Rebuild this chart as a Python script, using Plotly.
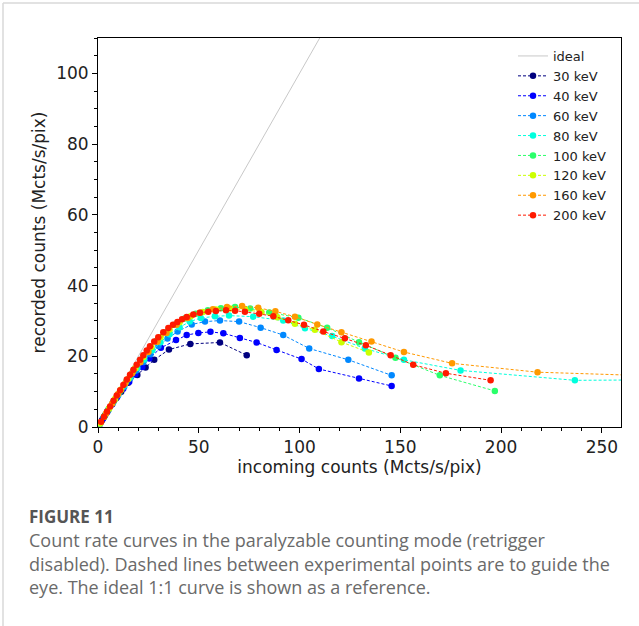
import plotly.graph_objects as go

# ---------------- data ----------------
ideal_x = [0, 120]
ideal_y = [0, 120]

s30_x = [1.0, 2.0, 3.5, 5.0, 7.0, 9.0, 11.5, 15.0, 19.5, 23.6, 27.9, 35.2, 45.8, 60.5, 73.8]
s30_y = [0.9, 1.9, 3.3, 4.7, 6.4, 8.1, 10.0, 12.5, 14.7, 16.8, 19.0, 21.9, 23.5, 23.9, 20.3]

s40_x = [1.0, 2.5, 4.5, 7.0, 9.5, 12.5, 15.5, 18.5, 22.0, 25.5, 31.2, 38.7, 44.0, 49.8, 55.8,
         62.2, 70.4, 78.7, 88.6, 101.0, 109.6, 129.5, 145.7]
s40_y = [0.95, 2.4, 4.2, 6.4, 8.5, 10.8, 12.8, 14.9, 17.0, 19.4, 22.4, 24.6, 26.0, 26.6, 26.9,
         26.5, 25.2, 23.9, 21.8, 19.2, 16.4, 13.7, 11.6]

s60_x = [1.0, 3.0, 5.0, 7.5, 10.0, 13.0, 16.0, 19.0, 22.5, 26.0, 30.0, 34.5, 39.5, 46.5, 53.1,
         60.5, 70.0, 80.7, 91.9, 104.8, 124.2, 145.7]
s60_y = [1.0, 2.9, 4.7, 6.9, 9.0, 11.4, 13.8, 16.0, 18.4, 20.6, 22.9, 25.0, 27.0, 29.0, 29.8,
         30.1, 29.8, 28.1, 26.0, 22.2, 19.0, 14.6]

s80_x = [1.0, 3.0, 5.0, 7.5, 10.0, 13.0, 16.0, 19.5, 23.0, 27.0, 31.0, 35.5, 40.5, 45.5, 51.0,
         58.0, 65.0, 77.0, 91.9, 102.7, 116.2, 132.4, 151.8, 179.9, 236.6, 300.0]
s80_y = [1.0, 2.9, 4.8, 7.0, 9.2, 11.7, 14.1, 16.7, 19.1, 21.7, 24.0, 26.2, 28.2, 29.8, 30.8,
         31.3, 31.5, 31.2, 30.1, 27.9, 25.7, 22.2, 19.0, 16.0, 13.2, 13.4]

s100_x = [1.0, 3.0, 5.5, 8.0, 11.0, 14.0, 17.5, 21.0, 25.0, 29.0, 33.5, 38.0, 43.0, 48.5, 54.5,
          61.0, 68.0, 75.5, 85.0, 99.4, 113.7, 129.5, 147.6, 169.6, 196.9]
s100_y = [1.0, 2.9, 5.2, 7.5, 10.2, 12.8, 15.8, 18.6, 21.6, 24.3, 26.8, 28.9, 30.7, 32.0, 33.0,
          33.6, 33.9, 33.5, 32.4, 30.9, 28.1, 24.0, 19.6, 14.6, 10.2]

s120_x = [1.0, 3.0, 5.5, 8.5, 11.5, 15.0, 18.5, 22.5, 26.5, 31.0, 35.5, 40.5, 46.0, 52.0, 58.5,
          65.5, 73.0, 81.0, 89.0, 97.7, 107.6, 120.8, 134.4]
s120_y = [1.0, 2.9, 5.2, 8.0, 10.6, 13.6, 16.6, 19.8, 22.6, 25.4, 27.6, 29.6, 31.3, 32.5, 33.2,
          33.5, 33.2, 32.5, 31.0, 29.2, 27.5, 24.0, 21.1]

s160_x = [1.5, 4.0, 7.0, 10.0, 13.5, 17.0, 21.0, 25.0, 29.5, 34.0, 39.0, 44.5, 50.5, 57.0, 64.0,
          71.5, 79.5, 88.0, 97.7, 108.8, 120.8, 135.7, 151.8, 175.7, 218.1, 300.0]
s160_y = [1.4, 3.8, 6.6, 9.3, 12.3, 15.2, 18.3, 21.2, 24.1, 26.6, 28.9, 30.8, 32.3, 33.3, 33.9,
          34.2, 33.7, 32.7, 31.2, 29.0, 26.8, 24.2, 21.2, 18.0, 15.5, 14.0]

s200_x = [1.5, 3.0, 4.5, 6.0, 7.7, 9.3, 11.0, 12.6, 14.3, 15.9, 17.6, 19.2, 20.9, 22.5, 24.2,
          25.8, 27.9, 29.9, 32.4, 34.9, 37.2, 39.4, 41.7, 44.0, 47.3, 50.6, 54.7, 58.5, 63.5,
          68.0, 72.9, 80.0, 87.0, 94.4, 102.2, 111.8, 122.5, 132.9, 145.2, 156.4, 172.6, 194.8]
s200_y = [1.45, 2.9, 4.35, 5.8, 7.4, 8.9, 10.4, 11.9, 13.4, 14.8, 16.2, 17.6, 19.0, 20.3, 21.6,
          22.8, 24.2, 25.4, 26.8, 28.0, 28.9, 29.7, 30.5, 31.1, 31.8, 32.3, 32.6, 32.8, 33.0,
          32.9, 32.6, 32.0, 31.3, 30.2, 28.9, 27.0, 25.1, 23.1, 20.3, 17.6, 15.2, 13.2]

series_names = ["30 keV", "40 keV", "60 keV", "80 keV", "100 keV", "120 keV", "160 keV", "200 keV"]
series_x = [s30_x, s40_x, s60_x, s80_x, s100_x, s120_x, s160_x, s200_x]
series_y = [s30_y, s40_y, s60_y, s80_y, s100_y, s120_y, s160_y, s200_y]
series_colors = ["#00007f", "#0000ff", "#0088ff", "#00ffdd", "#2aff6a", "#ccff00", "#ff9900", "#ff1a00"]

x_ticks = [0, 50, 100, 150, 200, 250]
y_ticks = [0, 20, 40, 60, 80, 100]

caption_head = "FIGURE 11"
caption_lines = [
    "Count rate curves in the paralyzable counting mode (retrigger",
    "disabled). Dashed lines between experimental points are to guide the",
    "eye. The ideal 1:1 curve is shown as a reference.",
]

# ---------------- layout helpers (pixels -> paper) ----------------
W, H = 639, 626
L, R, T, B = 98, 621, 38, 427


def px(xp):
    return (xp - L) / (R - L)


def py(yp):
    return (B - yp) / (B - T)


fig = go.Figure()

fig.add_trace(go.Scatter(
    x=ideal_x, y=ideal_y, mode="lines", name="ideal",
    line=dict(color="#c8c8c8", width=1),
))

for name, xs, ys, col in zip(series_names, series_x, series_y, series_colors):
    fig.add_trace(go.Scatter(
        x=xs, y=ys, mode="lines+markers", name=name,
        line=dict(color=col, width=1, dash="3px,2px"),
        marker=dict(color=col, size=6.5, line=dict(width=0)),
    ))

axis_font = dict(family="DejaVu Sans", size=17, color="#222222")

fig.update_xaxes(
    range=[0, 259.5], tickvals=x_ticks, ticks="outside", ticklen=5, tickwidth=1,
    tickcolor="black", showline=True, linecolor="black", linewidth=1, mirror=True,
    showgrid=False, zeroline=False, tickfont=axis_font,
    minor=dict(dtick=10, ticks="outside", ticklen=3, tickcolor="black", showgrid=False),
    title=dict(text="incoming counts (Mcts/s/pix)", font=axis_font, standoff=4),
)
fig.update_yaxes(
    range=[0, 110], tickvals=y_ticks, ticks="outside", ticklen=5, tickwidth=1,
    tickcolor="black", showline=True, linecolor="black", linewidth=1, mirror=True,
    showgrid=False, zeroline=False, tickfont=axis_font,
    minor=dict(dtick=5, ticks="outside", ticklen=3, tickcolor="black", showgrid=False),
    title=dict(text="recorded counts (Mcts/s/pix)", font=axis_font, standoff=6),
)

annotations = [
    dict(x=px(27), y=py(516), xref="paper", yref="paper", xanchor="left", yanchor="middle",
         text="<b>" + caption_head + "</b>", showarrow=False,
         font=dict(family="Open Sans", size=17, color="#555555")),
]
for i, line in enumerate(caption_lines):
    annotations.append(dict(
        x=px(27), y=py(540 + i * 23.5), xref="paper", yref="paper", xanchor="left",
        yanchor="middle", text=line, showarrow=False,
        font=dict(family="Open Sans", size=18, color="#6a6a6a")))

shapes = [
    dict(type="line", xref="paper", yref="paper", x0=px(3), x1=px(700), y0=py(3), y1=py(3),
         line=dict(color="#d8d8d8", width=1.5)),
    dict(type="line", xref="paper", yref="paper", x0=px(3), x1=px(3), y0=py(3), y1=py(700),
         line=dict(color="#d8d8d8", width=1.5)),
]

fig.update_layout(
    width=W, height=H,
    margin=dict(l=L, r=W - R, t=T, b=H - B),
    paper_bgcolor="white", plot_bgcolor="white",
    showlegend=True,
    legend=dict(x=px(513), y=py(41), xanchor="left", yanchor="top",
                bgcolor="rgba(0,0,0,0)", borderwidth=0,
                font=dict(family="DejaVu Sans", size=13, color="#222222"),
                itemwidth=30, tracegroupgap=0),
    annotations=annotations,
    shapes=shapes,
)

fig.write_html("out.html")
